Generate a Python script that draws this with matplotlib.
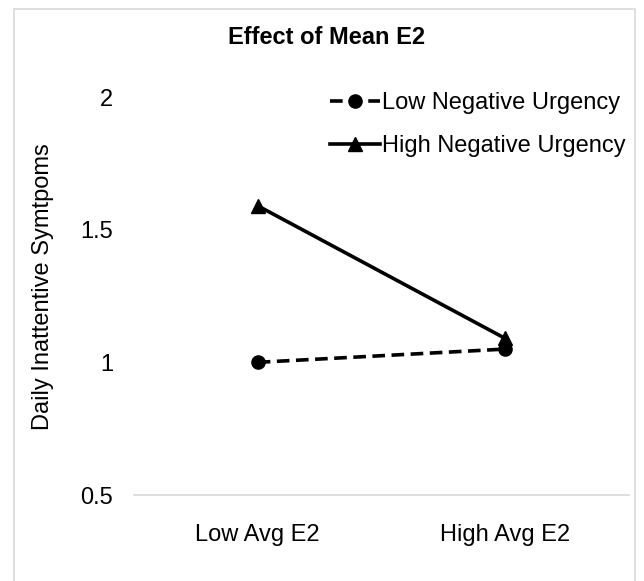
#!/usr/bin/env python3

import matplotlib
matplotlib.use('Agg')
import matplotlib.pyplot as plt
from matplotlib.patches import Rectangle

# Datos
categorias = ['Low Avg E2', 'High Avg E2']
low_nu = [1.00, 1.05]
high_nu = [1.59, 1.09]
nombres = ['Low Negative Urgency', 'High Negative Urgency']

plt.rcParams['font.family'] = ['Liberation Sans', 'DejaVu Sans']
plt.rcParams['font.size'] = 17

W, H = 644, 581
fig = plt.figure(figsize=(W / 100, H / 100), dpi=100)
ax = fig.add_axes([134 / W, 1 - 495 / H, (629 - 134) / W, (495 - 97) / H])

x = [0.5, 1.5]
ax.plot(x, low_nu, color='black', lw=2.6, ls=(0, (3.5, 1.8)),
        marker='o', ms=9.5, label=nombres[0])
ax.plot(x, high_nu, color='black', lw=2.6, ls='-',
        marker='^', ms=10.5, label=nombres[1])

ax.set_xlim(0, 2)
ax.set_ylim(0.5, 2)
ax.set_yticks([0.5, 1, 1.5, 2])
ax.set_yticklabels(['0.5', '1', '1.5', '2'])
ax.set_xticks(x)
ax.set_xticklabels(categorias)
ax.tick_params(axis='y', length=0, pad=15)
ax.tick_params(axis='x', length=0, pad=21)

for s in ['top', 'right', 'left']:
    ax.spines[s].set_visible(False)
ax.spines['bottom'].set_color('#d9d9d9')
ax.spines['bottom'].set_linewidth(1.2)

fig.text(327 / W, 1 - 38 / H, 'Effect of Mean E2', ha='center', va='center',
         fontweight='bold', fontsize=17)
fig.text(43 / W, 1 - 287 / H, 'Daily Inattentive Symtpoms', rotation=90,
         ha='center', va='center', fontsize=17)

fig.legend(loc='upper left', bbox_to_anchor=(330 / W, 1 - 92 / H),
           frameon=False, handlelength=2.1, handletextpad=0.1,
           labelspacing=0.9, borderpad=0, borderaxespad=0)

# Marco exterior del grafico
fig.patches.append(Rectangle((14 / W, -0.05), (635 - 14) / W, 1.05 - 9 / H,
                             transform=fig.transFigure, fill=False,
                             edgecolor='#d9d9d9', lw=1.2))

fig.savefig('out.png', dpi=100)
